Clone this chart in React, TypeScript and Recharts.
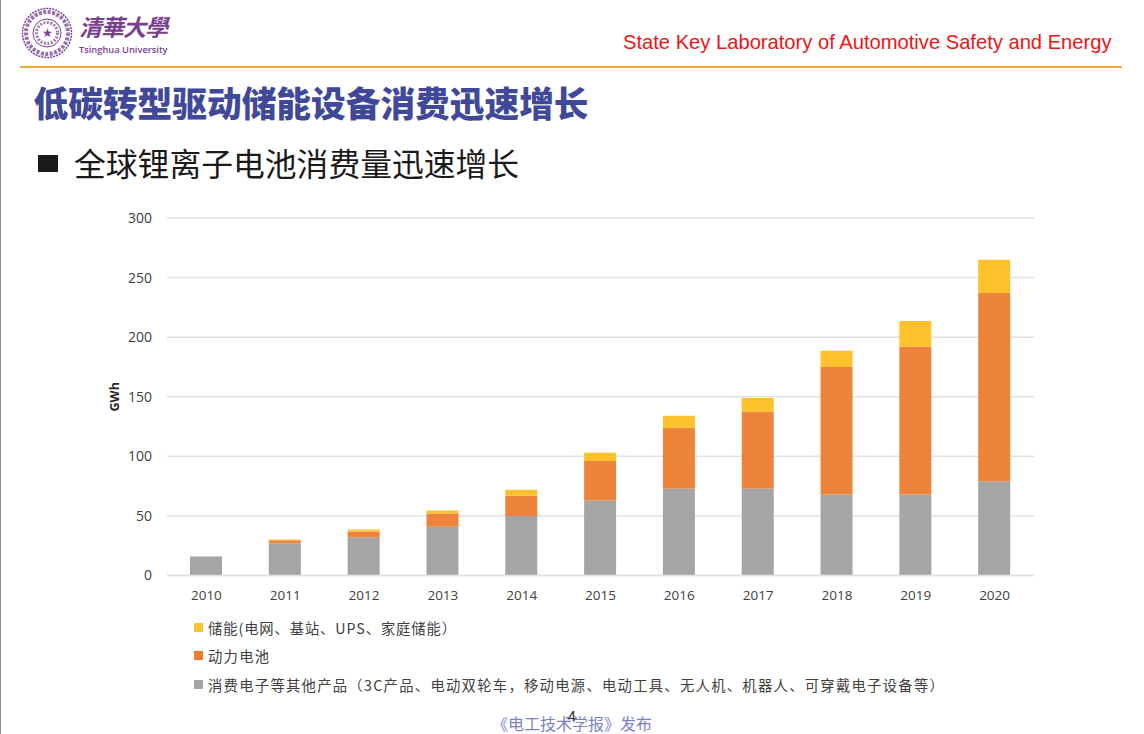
import React from 'react';
import { BarChart, Bar, XAxis, YAxis, CartesianGrid, Legend } from 'recharts';

const years = ['2010', '2011', '2012', '2013', '2014', '2015', '2016', '2017', '2018', '2019', '2020'];
const consumer = [16, 27, 32, 41, 50, 63, 73, 73, 68, 68, 79];
const power = [0, 2.5, 5, 11, 17, 33, 51, 64.5, 107, 124, 158];
const storage = [0, 0.8, 1.7, 2.5, 5, 7, 10, 11.5, 13.5, 21.5, 28];
const yTicks = [0, 50, 100, 150, 200, 250, 300];

const consumerName = '消费电子等其他产品（3C产品、电动双轮车，移动电源、电动工具、无人机、机器人、可穿戴电子设备等）';
const powerName = '动力电池';
const storageName = '储能(电网、基站、UPS、家庭储能）';

const data = years.map((year, i) => ({
  year,
  consumer: consumer[i],
  power: power[i],
  storage: storage[i],
}));

const cjk = '"Noto Sans CJK SC", "Noto Sans", sans-serif';
const tickStyle = { fontSize: 13.5, fill: '#404040', fontFamily: '"Open Sans", sans-serif' };

function Abs({ x, y, style, children }: { x: number; y: number; style?: React.CSSProperties; children: React.ReactNode }) {
  return <div style={{ position: 'absolute', left: x, top: y, whiteSpace: 'nowrap', ...style }}>{children}</div>;
}

function Logo() {
  const purple = '#7a3f8f';
  return (
    <>
      <svg width={52} height={52} style={{ position: 'absolute', left: 21, top: 7 }}>
        <circle cx={26} cy={26} r={24.5} fill="none" stroke={purple} strokeWidth={1.5} strokeDasharray="2 1" />
        <circle cx={26} cy={26} r={21} fill="none" stroke={purple} strokeWidth={4} strokeDasharray="3 1.5" opacity={0.75} />
        <circle cx={26} cy={26} r={14} fill="none" stroke={purple} strokeWidth={1} />
        <circle cx={26} cy={26} r={10.5} fill="none" stroke={purple} strokeWidth={3} strokeDasharray="2 1.5" opacity={0.7} />
        <text x={26} y={30} textAnchor="middle" fontSize={12} fill={purple}>★</text>
      </svg>
      <Abs x={79} y={10} style={{ fontFamily: cjk, fontSize: 23, lineHeight: '32px', color: purple, fontWeight: 700, letterSpacing: -1, fontStyle: 'italic' }}>
        清華大學
      </Abs>
      <Abs x={79} y={43} style={{ fontFamily: '"Open Sans", sans-serif', fontSize: 9.3, lineHeight: '14px', color: purple, fontWeight: 600 }}>
        Tsinghua University
      </Abs>
    </>
  );
}

function LegendList({ payload }: any) {
  return (
    <div>
      {(payload || []).map((entry: any, i: number) => (
        <div key={entry.value} style={{ display: 'flex', alignItems: 'center', height: 28.5 }}>
          <span style={{ width: 9, height: 9, background: entry.color, marginRight: 5, flex: 'none' }} />
          <span style={{ fontFamily: cjk, fontSize: 14.3, color: '#404040', letterSpacing: i === 0 ? 0.9 : 1.3, whiteSpace: 'nowrap' }}>{entry.value}</span>
        </div>
      ))}
    </div>
  );
}

export default function App() {
  return (
    <div style={{ position: 'absolute', left: 0, top: 0, width: 1144, height: 734, overflow: 'hidden', background: '#fff' }}>
      <div style={{ position: 'absolute', left: 0, top: 0, width: 1, height: 734, background: '#8c8c8c' }} />
      <Logo />
      <Abs x={623} y={30} style={{ fontFamily: '"Liberation Sans", sans-serif', fontSize: 20.16, lineHeight: '24px', color: '#f01414' }}>
        State Key Laboratory of Automotive Safety and Energy
      </Abs>
      <div style={{ position: 'absolute', left: 20, top: 66, width: 1102, height: 2, background: '#f5a63c' }} />
      <Abs x={33.5} y={77} style={{ fontFamily: cjk, fontSize: 34.7, lineHeight: '50px', fontWeight: 900, color: '#3f4899' }}>
        低碳转型驱动储能设备消费迅速增长
      </Abs>
      <div style={{ position: 'absolute', left: 38, top: 155, width: 20, height: 17, background: '#1a1a1a' }} />
      <Abs x={74} y={138} style={{ fontFamily: cjk, fontSize: 31.8, lineHeight: '48px', color: '#1a1a1a' }}>
        全球锂离子电池消费量迅速增长
      </Abs>

      <div style={{ position: 'absolute', left: 100, top: 200 }}>
        <BarChart
          width={950}
          height={510}
          data={data}
          margin={{ top: 18, right: 16, bottom: 104.5, left: 0 }}
          barSize={32}
        >
          <CartesianGrid vertical={false} stroke="#e2e2e2" strokeWidth={1.5} />
          <XAxis
            dataKey="year"
            tick={tickStyle}
            tickLine={false}
            axisLine={{ stroke: '#e2e2e2', strokeWidth: 1.5 }}
            tickMargin={9}
            interval={0}
          />
          <YAxis
            width={67}
            domain={[0, 300]}
            ticks={yTicks}
            tick={{ ...tickStyle, fontSize: 14 }}
            tickLine={false}
            axisLine={false}
            tickMargin={9}
            label={{
              value: 'GWh',
              angle: -90,
              position: 'insideLeft',
              offset: 15,
              style: { fontSize: 12.5, fontWeight: 700, fill: '#262626', fontFamily: '"Open Sans", sans-serif', textAnchor: 'middle' },
            }}
          />
          <Legend
            layout="horizontal"
            align="center"
            verticalAlign="middle"
            content={<LegendList />}
            wrapperStyle={{ position: 'absolute', left: 94, top: 413, width: 800 }}
          />
          <Bar dataKey="consumer" name={consumerName} stackId="a" fill="#a5a5a5" isAnimationActive={false} />
          <Bar dataKey="power" name={powerName} stackId="a" fill="#ed7d31" fillOpacity={0.95} isAnimationActive={false} />
          <Bar dataKey="storage" name={storageName} stackId="a" fill="#ffc12c" isAnimationActive={false} />
        </BarChart>
      </div>

      <Abs x={492} y={713} style={{ fontFamily: cjk, fontSize: 16, lineHeight: '20px', color: '#7b83c6' }}>
        《电工技术学报》发布
      </Abs>
      <Abs x={568} y={707} style={{ fontFamily: '"Liberation Sans", sans-serif', fontSize: 14, lineHeight: '18px', color: '#222' }}>
        4
      </Abs>
    </div>
  );
}
